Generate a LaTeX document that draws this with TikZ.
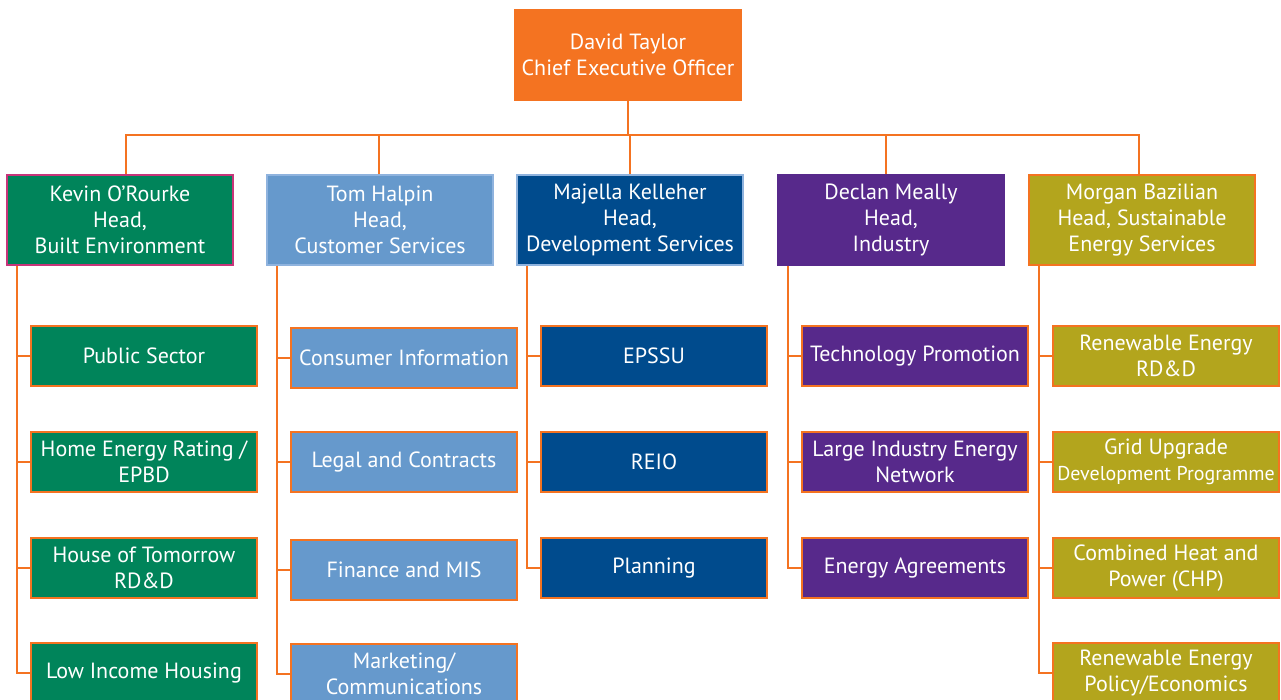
\documentclass[tikz,border=0pt]{standalone}
\usepackage{fontspec}
\setmainfont{PT Sans}
\definecolor{corg}{HTML}{F47321}
\definecolor{cgreen}{HTML}{00845A}
\definecolor{clblue}{HTML}{6699CC}
\definecolor{cdblue}{HTML}{004B8D}
\definecolor{cpurple}{HTML}{57298B}
\definecolor{colive}{HTML}{B3A51D}
\definecolor{cmag}{HTML}{C8347A}
\definecolor{cpale}{HTML}{8FB3DE}
\tikzset{
  box/.style={draw, line width=1.5pt, minimum width=226pt, inner sep=1pt, text=white, align=center, font=\fontsize{22}{26}\selectfont},
  headbox/.style={box, minimum height=90pt},
  subbox/.style={box, minimum height=60pt, draw=corg},
  conn/.style={draw=corg, line width=1.8pt}
}
\begin{document}
\begin{tikzpicture}[x=1pt,y=-1pt]
\useasboundingbox (0,0) rectangle (1281,699);
\clip (0,0) rectangle (1281,699);
% CEO
\node[box, fill=corg, draw=corg, minimum width=227pt, minimum height=90pt] (ceo) at (628,55) {David Taylor\\Chief Executive Officer};
% heads
\node[headbox, fill=cgreen, draw=cmag] (h1) at (120,220) {Kevin O’Rourke\\Head,\\Built Environment};
\node[headbox, fill=clblue, draw=cpale] (h2) at (380,220) {Tom Halpin\\Head,\\Customer Services};
\node[headbox, fill=cdblue, draw=cpale] (h3) at (630,220) {Majella Kelleher\\Head,\\Development Services};
\node[headbox, fill=cpurple, draw=cpurple] (h4) at (891,220) {Declan Meally\\Head,\\Industry};
\node[headbox, fill=colive, draw=corg] (h5) at (1142,220) {Morgan Bazilian\\Head, Sustainable\\Energy Services};
% bus
\coordinate (bus) at (628,135);
\draw[conn] (ceo.south) -- (bus);
\draw[conn] (h1.north -| 126,0) |- (bus) -| (h5.north -| 1139,0);
\draw[conn] (h2.north -| 379,0) -- (379,135);
\draw[conn] (h3.north -| 630,0) -- (630,135);
\draw[conn] (h4.north -| 886,0) -- (886,135);
% column 1
\node[subbox, fill=cgreen] (a1) at (144,356) {Public Sector};
\node[subbox, fill=cgreen] (a2) at (144,462) {Home Energy Rating /\\EPBD};
\node[subbox, fill=cgreen] (a3) at (144,568) {House of Tomorrow\\RD\&D};
\node[subbox, fill=cgreen] (a4) at (144,673) {Low Income Housing};
% column 2
\node[subbox, fill=clblue] (b1) at (404,358) {Consumer Information};
\node[subbox, fill=clblue] (b2) at (404,462) {Legal and Contracts};
\node[subbox, fill=clblue] (b3) at (404,570) {Finance and MIS};
\node[subbox, fill=clblue] (b4) at (404,674) {Marketing/\\Communications};
% column 3
\node[subbox, fill=cdblue] (c1) at (654,356) {EPSSU};
\node[subbox, fill=cdblue] (c2) at (654,462) {REIO};
\node[subbox, fill=cdblue] (c3) at (654,568) {Planning};
% column 4
\node[subbox, fill=cpurple] (d1) at (915,356) {Technology Promotion};
\node[subbox, fill=cpurple] (d2) at (915,462) {Large Industry Energy\\Network};
\node[subbox, fill=cpurple] (d3) at (915,568) {Energy Agreements};
% column 5
\node[subbox, fill=colive] (e1) at (1166,356) {Renewable Energy\\RD\&D};
\node[subbox, fill=colive] (e2) at (1166,462) {Grid Upgrade\\{\fontsize{20}{26}\selectfont Development Programme}};
\node[subbox, fill=colive] (e3) at (1166,568) {Combined Heat and\\Power (CHP)};
\node[subbox, fill=colive] (e4) at (1166,673) {Renewable Energy\\Policy/Economics};
% branches
\foreach \h/\x/\list in {h1/17/{a1,a2,a3,a4}, h2/277/{b1,b2,b3,b4}, h3/527/{c1,c2,c3}, h4/788/{d1,d2,d3}, h5/1039/{e1,e2,e3,e4}}{
  \foreach \s in \list {
    \draw[conn] (\h.south -| \x,0) |- (\s.west);
  }
}
\end{tikzpicture}
\end{document}
